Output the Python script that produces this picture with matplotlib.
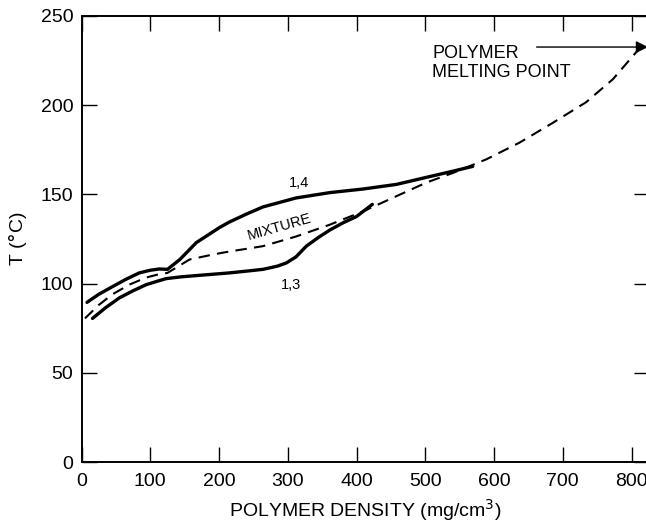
import matplotlib
matplotlib.use('Agg')
import matplotlib.pyplot as plt

# values
upper_x = [8, 25, 45, 65, 84, 100, 113, 125, 143, 167, 201, 215, 240, 264, 312, 361, 409, 458, 502, 540, 569]
upper_y = [89.5, 94, 98.3, 102.5, 106, 107.5, 108.2, 108, 113.5, 123, 131.5, 134.5, 139, 143, 148, 151, 153, 155.6, 159.6, 163, 165.7]

lower_x = [16, 35, 55, 75, 94, 110, 123, 145, 167, 215, 240, 264, 285, 298, 312, 327, 345, 361, 380, 400, 423]
lower_y = [80.5, 86.5, 92, 96, 99.4, 101.3, 102.8, 103.8, 104.5, 106, 107, 108, 109.8, 111.6, 115, 121, 126, 130, 134, 137.6, 144.4]

mix_x = [5, 25, 45, 70, 94, 110, 125, 157, 191, 215, 240, 264, 312, 361, 409, 458, 502, 540, 589, 637, 685, 734, 773, 807, 818]
mix_y = [80.5, 88, 94, 99.5, 103.4, 105, 106, 113.5, 116.3, 118, 119.5, 121, 126.4, 133, 140.4, 149, 156.7, 162, 169.7, 179, 190, 201.7, 214.6, 229.8, 234]

x_ticks = [0, 100, 200, 300, 400, 500, 600, 700, 800]
y_ticks = [0, 50, 100, 150, 200, 250]
melting_point = 232.6

plt.rcParams['font.family'] = ['Liberation Sans', 'DejaVu Sans']

fig = plt.figure(figsize=(6.46, 5.21), dpi=100)
ax = fig.add_axes([0.1262, 0.1132, 0.878, 0.8561])

ax.plot(upper_x, upper_y, color='black', lw=2.4, solid_capstyle='round')
ax.plot(lower_x, lower_y, color='black', lw=2.4, solid_capstyle='round')
ax.plot(mix_x, mix_y, color='black', lw=1.5, linestyle=(0, (5.5, 3.5)))

ax.set_xlim(0, 825)
ax.set_ylim(0, 250)
ax.set_xticks(x_ticks)
ax.set_yticks(y_ticks)
ax.tick_params(direction='in', length=11, width=1.0, labelsize=14,
               top=True, right=True, pad=8)
ax.tick_params(axis='y', pad=6)
for s in ax.spines.values():
    s.set_linewidth(1.4)

ax.set_xlabel('POLYMER DENSITY (mg/cm$^3$)', fontsize=14, labelpad=5)
ax.set_ylabel('T ($\\degree$C)', fontsize=14, labelpad=8)

ax.text(317, 156.5, '1,4', fontsize=10.5, ha='center', va='center')
ax.text(305, 99.4, '1,3', fontsize=10.5, ha='center', va='center')
ax.text(288, 131.5, 'MIXTURE', fontsize=10.5, ha='center', va='center', rotation=16)

ax.text(510, 233.5, 'POLYMER\nMELTING POINT', fontsize=13, ha='left', va='top',
        linespacing=1.15)
ax.annotate('', xy=(824, melting_point), xytext=(662, melting_point),
            arrowprops=dict(arrowstyle='-|>', color='black', lw=1.0,
                            mutation_scale=18, shrinkA=0, shrinkB=0),
            annotation_clip=False)

fig.savefig('out.png', dpi=100)
